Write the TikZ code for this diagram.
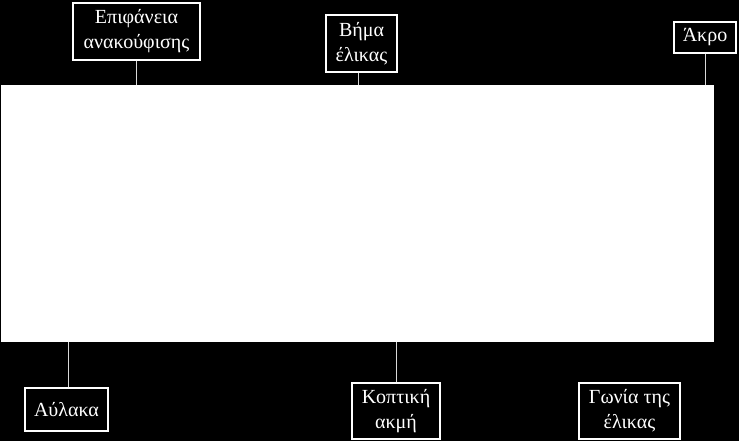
\documentclass[tikz,border=0pt]{standalone}
\usepackage{fontspec}
\setmainfont{Liberation Serif}
\begin{document}
\begin{tikzpicture}[x=1pt,y=-1pt,
  lbl/.style={draw=white, line width=1.2pt, fill=black, text=white, align=center,
    inner sep=0pt, font=\fontsize{20}{25}\selectfont},
  conn/.style={draw=white!85!black, line width=1pt}]
\fill[black] (0,0) rectangle (739,441);
\useasboundingbox (0,0) rectangle (739,441);
\node[fill=white, draw=none, minimum width=713pt, minimum height=257pt, inner sep=0pt] (body) at (357.5,213.5) {};
\node[lbl, minimum width=127pt, minimum height=57pt] (relief) at (136.5,31.5) {Επιφάνεια\\ανακούφισης};
\node[lbl, minimum width=71pt, minimum height=57pt] (pitch) at (361.5,43.5) {Βήμα\\έλικας};
\node[lbl, minimum width=62pt, minimum height=31pt] (tip) at (705,37.5) {Άκρο};
\node[lbl, minimum width=83pt, minimum height=43pt] (flute) at (66.5,409.5) {Αύλακα};
\node[lbl, minimum width=88pt, minimum height=56pt] (edge) at (396,411) {Κοπτική\\ακμή};
\node[lbl, minimum width=101pt, minimum height=56pt] (angle) at (629.5,411) {Γωνία της\\έλικας};
\coordinate (pitchfoot) at ([xshift=-3.5pt]pitch.south);
\coordinate (flutefoot) at ([xshift=1.5pt]flute.north);
\draw[conn] (relief.south) -- (relief.south |- body.north);
\draw[conn] (pitchfoot) -- (pitchfoot |- body.north);
\draw[conn] (tip.south) -- (tip.south |- body.north);
\draw[conn] (flutefoot) -- (flutefoot |- body.south);
\draw[conn] (edge.north) -- (edge.north |- body.south);
\end{tikzpicture}
\end{document}
